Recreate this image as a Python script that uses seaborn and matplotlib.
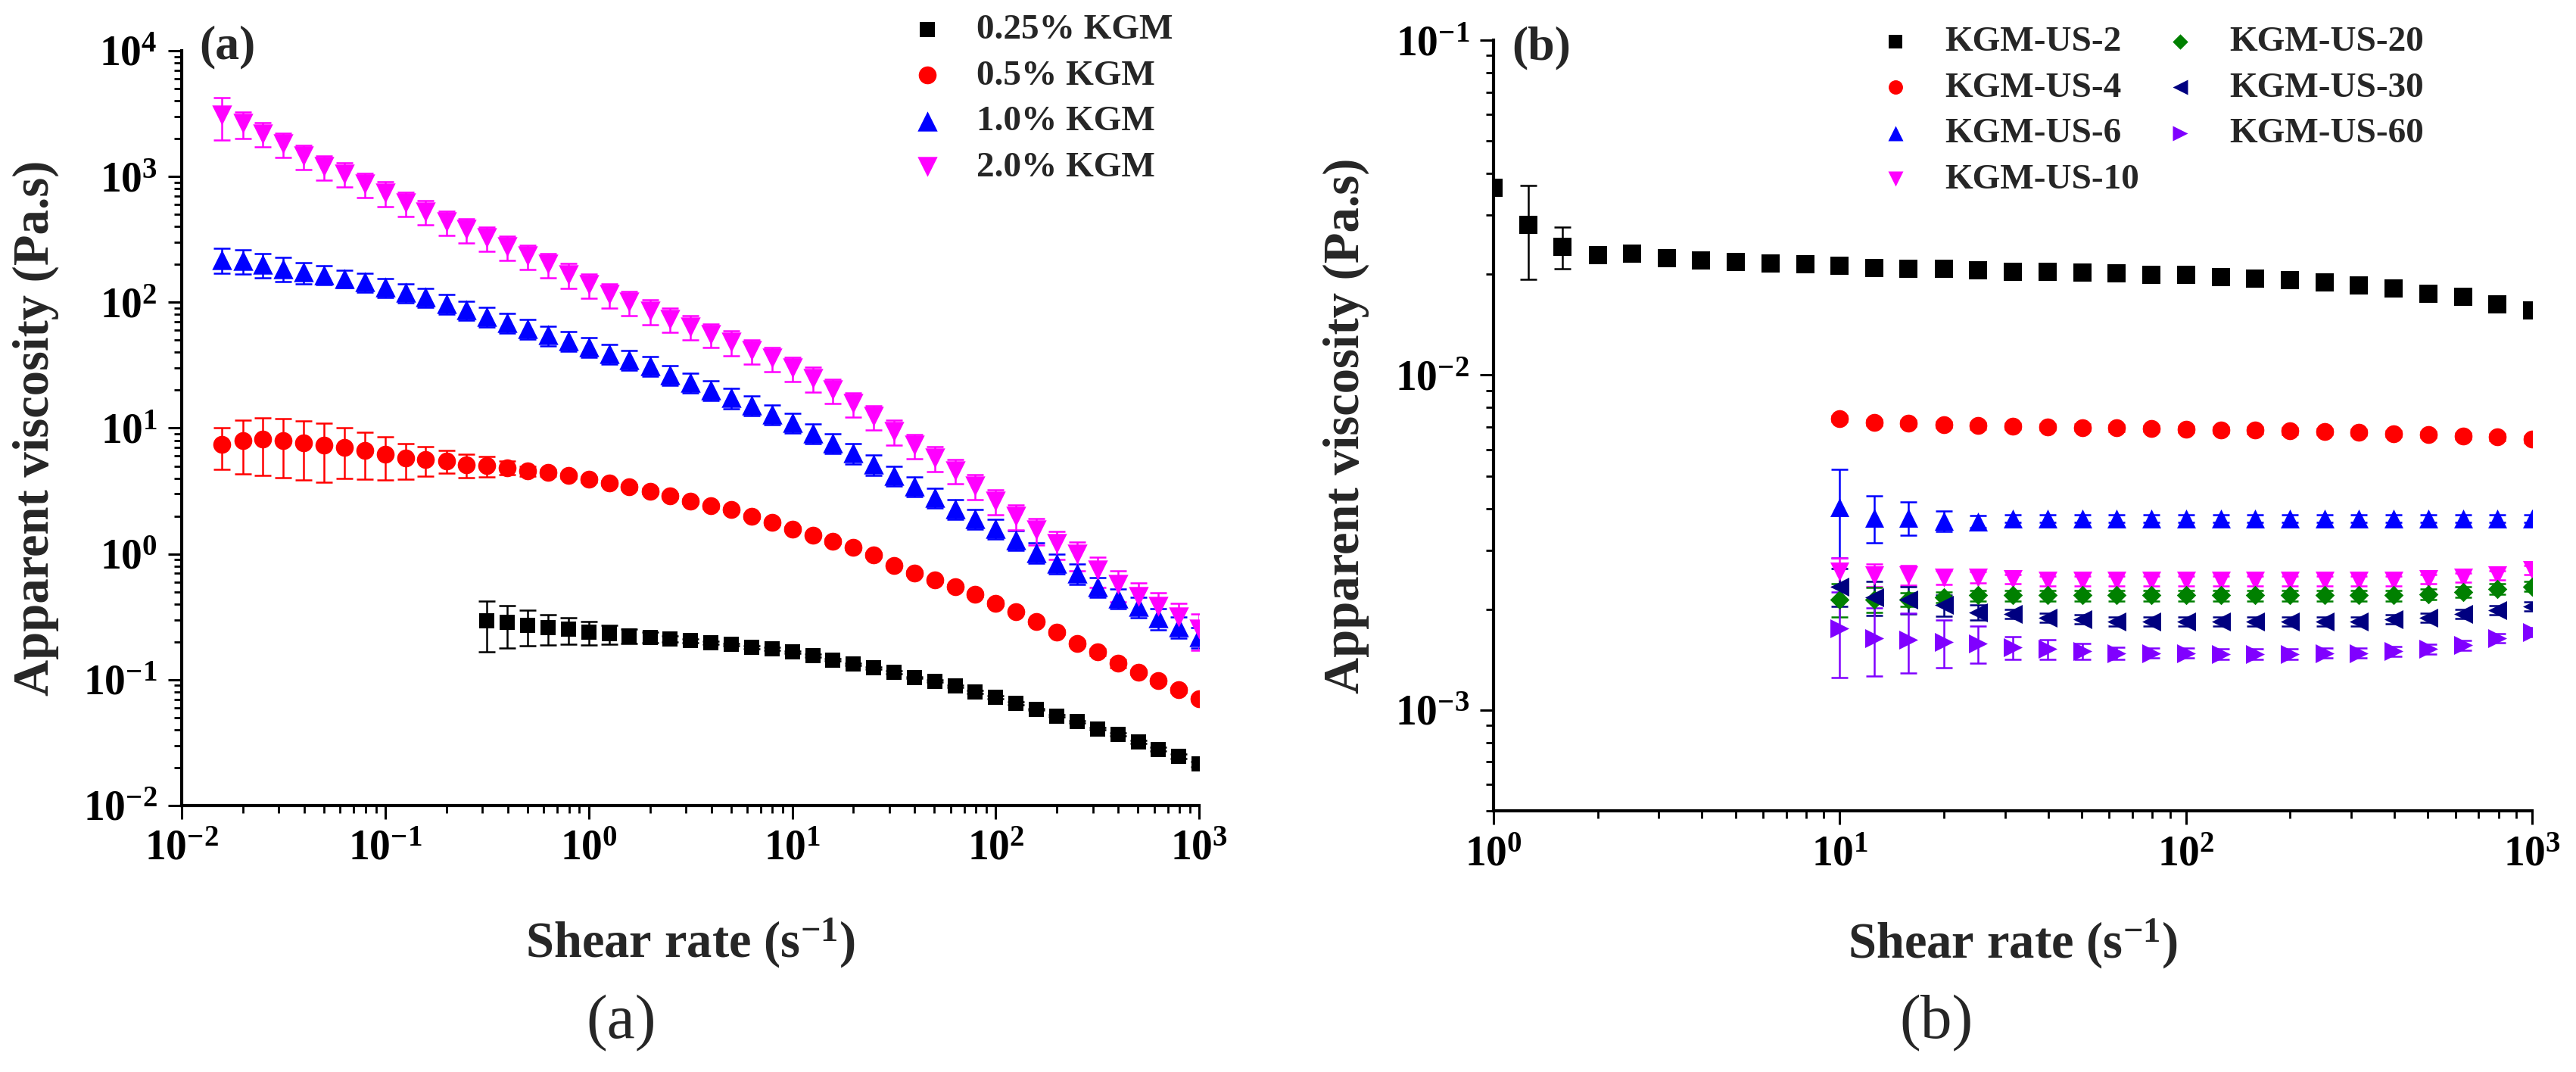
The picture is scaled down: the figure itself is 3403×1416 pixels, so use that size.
import numpy as np
import pandas as pd
import matplotlib
matplotlib.use("Agg")
import matplotlib.pyplot as plt
from matplotlib import ticker, font_manager
import seaborn as sns

# ---------------- data: panel (a) ----------------
shear_a = [0.0158, 0.0200, 0.0251, 0.0316, 0.0398, 0.0501, 0.0631, 0.0794, 0.100,
           0.126, 0.158, 0.200, 0.251, 0.316, 0.398, 0.501, 0.631, 0.794, 1.00,
           1.26, 1.58, 2.00, 2.51, 3.16, 3.98, 5.01, 6.31, 7.94, 10.0,
           12.6, 15.8, 20.0, 25.1, 31.6, 39.8, 50.1, 63.1, 79.4, 100,
           126, 158, 200, 251, 316, 398, 501, 631, 794, 1000]
shear_a025 = shear_a[13:]

visc_025 = [0.294, 0.284, 0.271, 0.259, 0.251, 0.239, 0.232, 0.223, 0.218, 0.211,
            0.204, 0.197, 0.190, 0.182, 0.176, 0.166, 0.155, 0.144, 0.133, 0.124,
            0.114, 0.104, 0.0973, 0.0887, 0.0802, 0.0721, 0.0649, 0.0581, 0.0514, 0.0465,
            0.0408, 0.0366, 0.0321, 0.0280, 0.0245, 0.0214]
err_025 = [0.127, 0.105, 0.084, 0.071, 0.060, 0.050, 0.040, 0.030, 0.020, 0.012,
           0.008, 0.006, 0.005, 0.005, 0.004, 0.004, 0.004, 0.003, 0.003, 0.003,
           0.003, 0.002, 0.002, 0.002, 0.002, 0.002, 0.002, 0.001, 0.001, 0.001,
           0.001, 0.001, 0.001, 0.001, 0.001, 0.001]

visc_05 = [7.41, 7.94, 8.13, 7.94, 7.67, 7.33, 7.00, 6.61, 6.17, 5.75,
           5.62, 5.50, 5.13, 5.01, 4.84, 4.57, 4.42, 4.20, 3.91, 3.65,
           3.40, 3.16, 2.88, 2.63, 2.40, 2.24, 2.00, 1.78, 1.58, 1.41,
           1.26, 1.12, 0.977, 0.813, 0.708, 0.617, 0.550, 0.479, 0.407, 0.347,
           0.288, 0.240, 0.195, 0.166, 0.135, 0.115, 0.0977, 0.0832, 0.0708]
err_05 = [2.7, 3.6, 3.9, 3.9, 3.8, 3.6, 3.0, 2.7, 2.3, 1.8,
          1.5, 1.1, 1.1, 0.9, 0.6, 0.4, 0.3, 0.2, 0.18, 0.16,
          0.15, 0.14, 0.12, 0.11, 0.10, 0.09, 0.08, 0.07, 0.06, 0.05,
          0.05, 0.04, 0.04, 0.03, 0.03, 0.02, 0.02, 0.02, 0.02, 0.01,
          0.01, 0.01, 0.01, 0.01, 0.01, 0.005, 0.004, 0.004, 0.003]

visc_10 = [219, 214, 200, 186, 174, 166, 155, 145, 132, 120,
           110, 97.7, 87.1, 77.6, 69.2, 61.7, 55.0, 49.7, 44.3, 39.4,
           35.1, 31.3, 26.6, 23.2, 20.1, 17.5, 15.3, 13.0, 11.1, 9.18,
           7.64, 6.35, 5.16, 4.20, 3.48, 2.83, 2.30, 1.91, 1.60, 1.29,
           1.03, 0.84, 0.70, 0.55, 0.447, 0.38, 0.309, 0.263, 0.219]
err_10 = [50, 46, 44, 40, 33, 28, 25, 24, 23, 21,
          19, 17, 15, 14, 12, 11, 9.9, 8.9, 8.0, 7.1,
          6.3, 5.6, 4.8, 4.2, 3.6, 3.2, 2.8, 2.3, 2.0, 1.65,
          1.38, 1.14, 0.93, 0.76, 0.63, 0.51, 0.41, 0.34, 0.29, 0.23,
          0.19, 0.15, 0.13, 0.10, 0.08, 0.07, 0.06, 0.05, 0.04]

visc_20 = [3090, 2630, 2190, 1820, 1450, 1200, 1050, 871, 741, 617,
           525, 437, 380, 324, 275, 234, 200, 166, 138, 115,
           100, 85.1, 73.5, 64.0, 55.6, 48.4, 41.2, 35.9, 29.9, 24.8,
           20.1, 15.6, 12.4, 9.42, 7.29, 5.79, 4.60, 3.48, 2.63, 2.00,
           1.55, 1.20, 0.99, 0.74, 0.575, 0.457, 0.380, 0.316, 0.251]
err_20 = [1150, 630, 480, 400, 320, 265, 230, 190, 165, 135,
          115, 96, 84, 71, 60, 51, 44, 37, 30, 25,
          22, 19, 16, 14, 12, 10.6, 9.1, 7.9, 6.6, 5.5,
          4.4, 3.4, 2.7, 2.1, 1.6, 1.3, 1.0, 0.77, 0.58, 0.46,
          0.37, 0.30, 0.26, 0.20, 0.16, 0.13, 0.11, 0.09, 0.08]

labels_a = ["0.25% KGM", "0.5% KGM", "1.0% KGM", "2.0% KGM"]

# ---------------- data: panel (b) ----------------
shear_b2 = [1.00, 1.26, 1.58, 2.00, 2.51, 3.16, 3.98, 5.01, 6.31, 7.94,
            10.0, 12.6, 15.8, 20.0, 25.1, 31.6, 39.8, 50.1, 63.1, 79.4,
            100, 126, 158, 200, 251, 316, 398, 501, 631, 794, 1000]
shear_b = shear_b2[10:]

visc_us2 = [0.0363, 0.0281, 0.0242, 0.0228, 0.0231, 0.0223, 0.0220, 0.0218, 0.0215, 0.0214,
            0.0212, 0.0209, 0.0208, 0.0208, 0.0206, 0.0204, 0.0203, 0.0202, 0.0201, 0.0199,
            0.0199, 0.0196, 0.0194, 0.0192, 0.0189, 0.0185, 0.0181, 0.0175, 0.0171, 0.0163,
            0.0156]
err_us2 = [0.0010, 0.0088, 0.0034, 0.0005, 0.0004, 0.0004, 0.0004, 0.0004, 0.0004, 0.0004,
           0.0004, 0.0004, 0.0004, 0.0004, 0.0004, 0.0004, 0.0004, 0.0004, 0.0004, 0.0004,
           0.0004, 0.0004, 0.0004, 0.0004, 0.0004, 0.0004, 0.0004, 0.0004, 0.0004, 0.0004,
           0.0004]
visc_us4 = [0.00740, 0.00723, 0.00719, 0.00710, 0.00706, 0.00703, 0.00701, 0.00698, 0.00695, 0.00693,
            0.00689, 0.00685, 0.00684, 0.00681, 0.00678, 0.00675, 0.00668, 0.00665, 0.00658, 0.00653,
            0.00643]
err_us4 = [0.00015] * 21
visc_us6 = [0.00404, 0.00375, 0.00375, 0.00367, 0.00366, 0.00373, 0.00373, 0.00373, 0.00373, 0.00373,
            0.00373, 0.00373, 0.00373, 0.00373, 0.00373, 0.00373, 0.00373, 0.00373, 0.00373, 0.00373,
            0.00373]
err_us6 = [0.0012, 0.0006, 0.00043, 0.00025, 0.00015, 0.0001, 0.0001, 0.0001, 0.0001, 0.0001,
           0.0001, 0.0001, 0.0001, 0.0001, 0.0001, 0.0001, 0.0001, 0.0001, 0.0001, 0.0001,
           0.0001]
visc_us10 = [0.00259, 0.00253, 0.00253, 0.00249, 0.00249, 0.00246, 0.00243, 0.00243, 0.00243, 0.00243,
             0.00243, 0.00243, 0.00243, 0.00243, 0.00243, 0.00243, 0.00243, 0.00246, 0.00249, 0.00253,
             0.00262]
err_us10 = [0.00025, 0.0002, 0.00017, 0.00012, 0.0001, 0.00008, 0.00008, 0.00008, 0.00008, 0.00008,
            0.00008, 0.00008, 0.00008, 0.00008, 0.00008, 0.00008, 0.00008, 0.00008, 0.00008, 0.00008,
            0.00008]
visc_us20 = [0.00214, 0.00214, 0.00214, 0.00217, 0.00220, 0.00220, 0.00220, 0.00220, 0.00220, 0.00220,
             0.00220, 0.00220, 0.00220, 0.00220, 0.00220, 0.00220, 0.00220, 0.00222, 0.00225, 0.00230,
             0.00234]
err_us20 = [0.00024, 0.00018, 0.0001, 0.00008, 0.00008, 0.00008, 0.00008, 0.00008, 0.00008, 0.00008,
            0.00008, 0.00008, 0.00008, 0.00008, 0.00008, 0.00008, 0.00008, 0.00008, 0.00008, 0.00008,
            0.00008]
visc_us30 = [0.00234, 0.00217, 0.00214, 0.00206, 0.00196, 0.00194, 0.00189, 0.00187, 0.00184, 0.00184,
             0.00184, 0.00184, 0.00184, 0.00184, 0.00184, 0.00184, 0.00187, 0.00189, 0.00194, 0.00199,
             0.00204]
err_us30 = [0.0003, 0.00025, 0.0002, 0.00015, 0.0001, 0.00006, 0.00006, 0.00006, 0.00006, 0.00006,
            0.00006, 0.00006, 0.00006, 0.00006, 0.00006, 0.00006, 0.00006, 0.00006, 0.00006, 0.00006,
            0.00006]
visc_us60 = [0.00175, 0.00164, 0.00162, 0.00160, 0.00158, 0.00154, 0.00152, 0.00150, 0.00148, 0.00148,
             0.00148, 0.00147, 0.00147, 0.00147, 0.00148, 0.00148, 0.00150, 0.00152, 0.00156, 0.00164,
             0.00171]
err_us60 = [0.0005, 0.00038, 0.00033, 0.00026, 0.0002, 0.00012, 0.0001, 0.00008, 0.00006, 0.00005,
            0.00005, 0.00005, 0.00005, 0.00005, 0.00005, 0.00005, 0.00005, 0.00005, 0.00005, 0.00005,
            0.00005]
labels_b = ["KGM-US-2", "KGM-US-4", "KGM-US-6", "KGM-US-10", "KGM-US-20", "KGM-US-30", "KGM-US-60"]

# ---------------- fonts ----------------
available = {f.name for f in font_manager.fontManager.ttflist}
SERIF = "DejaVu Serif"
for cand in ["Liberation Serif", "Times New Roman", "Tinos", "Nimbus Roman", "Noto Serif",
             "DejaVu Serif"]:
    if cand in available:
        SERIF = cand
        break

# ---------------- style ----------------
sns.set_theme(style="ticks")
plt.rcParams["font.family"] = [SERIF, "DejaVu Sans"]
plt.rcParams["mathtext.fontset"] = "custom"
plt.rcParams["mathtext.rm"] = SERIF
plt.rcParams["mathtext.bf"] = SERIF + ":bold"
plt.rcParams["mathtext.it"] = SERIF + ":italic"

fig = plt.figure(figsize=(34.03, 14.16), dpi=100)
fig.patch.set_facecolor("white")
ax_a = fig.add_axes([0.07053, 0.2486, 0.3950, 0.7041])
ax_b = fig.add_axes([0.5798, 0.2436, 0.4032, 0.7189])

def pow_fmt(v, pos):
    if v <= 0:
        return ""
    e = int(np.round(np.log10(v)))
    if not np.isclose(v, 10.0 ** e):
        return ""
    return r"$\mathbf{10^{%d}}$" % e

def style_axis(ax):
    ax.set_xscale("log")
    ax.set_yscale("log")
    ax.set_facecolor("white")
    for s in ["top", "right"]:
        ax.spines[s].set_visible(False)
    for s in ["left", "bottom"]:
        ax.spines[s].set_linewidth(3)
        ax.spines[s].set_color("black")
    for axis in [ax.xaxis, ax.yaxis]:
        axis.set_major_locator(ticker.LogLocator(base=10, numticks=30))
        axis.set_minor_locator(ticker.LogLocator(base=10, subs=np.arange(2, 10), numticks=30))
        axis.set_major_formatter(ticker.FuncFormatter(pow_fmt))
        axis.set_minor_formatter(ticker.NullFormatter())
    ax.tick_params(which="major", direction="out", length=13, width=2.2, pad=10,
                   labelsize=40, color="black", labelcolor="black")
    ax.tick_params(which="minor", direction="out", length=7, width=2.0, color="black")
    ax.grid(False)

def draw_series(ax, x, y, e, color, marker, ms, label):
    ax.errorbar(x, y, yerr=e, fmt="none", ecolor=color, elinewidth=1.8,
                capsize=8, capthick=1.8, zorder=2)
    sns.scatterplot(x=x, y=y, ax=ax, marker=marker, s=ms ** 2, color=color,
                    edgecolor=color, linewidth=0, label=label, zorder=3)

# ---------------- panel (a) ----------------
style_axis(ax_a)
draw_series(ax_a, shear_a025, visc_025, err_025, "#000000", "s", 15, labels_a[0])
draw_series(ax_a, shear_a, visc_05, err_05, "#ff0000", "o", 17, labels_a[1])
draw_series(ax_a, shear_a, visc_10, err_10, "#0000ff", "^", 19, labels_a[2])
draw_series(ax_a, shear_a, visc_20, err_20, "#ff00ff", "v", 19, labels_a[3])
ax_a.set_xlim(1e-2, 1e3)
ax_a.set_ylim(1e-2, 1e4)

# ---------------- panel (b) ----------------
style_axis(ax_b)
draw_series(ax_b, shear_b2, visc_us2, err_us2, "#000000", "s", 17, labels_b[0])
draw_series(ax_b, shear_b, visc_us4, err_us4, "#ff0000", "o", 17, labels_b[1])
draw_series(ax_b, shear_b, visc_us6, err_us6, "#0000ff", "^", 18, labels_b[2])
draw_series(ax_b, shear_b, visc_us10, err_us10, "#ff00ff", "v", 18, labels_b[3])
draw_series(ax_b, shear_b, visc_us20, err_us20, "#008000", "D", 13, labels_b[4])
draw_series(ax_b, shear_b, visc_us30, err_us30, "#000080", "<", 18, labels_b[5])
draw_series(ax_b, shear_b, visc_us60, err_us60, "#8000ff", ">", 18, labels_b[6])
ax_b.set_xlim(1, 1e3)
ax_b.set_ylim(5e-4, 1e-1)

# ---------------- labels ----------------
lab_font = dict(family=[SERIF, "DejaVu Sans"], weight="bold", size=48)
for ax in (ax_a, ax_b):
    ax.set_ylabel("Apparent viscosity (Pa.s)", **lab_font)
    ax.set_xlabel(r"Shear rate (s$^{\mathbf{-1}}$)", **lab_font)
ax_a.yaxis.set_label_coords(-0.1205, 0.5)
ax_b.yaxis.set_label_coords(-0.1195, 0.5)
ax_a.xaxis.set_label_coords(0.5, -0.1464)
ax_b.xaxis.set_label_coords(0.5, -0.1375)

ax_a.text(0.017, 1.005, "(a)", transform=ax_a.transAxes, ha="left", va="center",
          family=[SERIF, "DejaVu Sans"], weight="bold", size=46)
ax_b.text(0.0175, 0.990, "(b)", transform=ax_b.transAxes, ha="left", va="center",
          family=[SERIF, "DejaVu Sans"], weight="bold", size=46)

fig.text(821 / 3403, 1 - 1352 / 1416, "(a)", ha="center", va="center",
         family=[SERIF, "DejaVu Sans"], size=60)
fig.text(2558 / 3403, 1 - 1352 / 1416, "(b)", ha="center", va="center",
         family=[SERIF, "DejaVu Sans"], size=60)

# ---------------- legends ----------------
leg_font = font_manager.FontProperties(family=[SERIF, "DejaVu Sans"], weight="bold", size=34)
leg_a = ax_a.legend(loc="upper left", bbox_to_anchor=(1201 / 3403, 1 - 18 / 1416),
                    bbox_transform=fig.transFigure, frameon=False, prop=leg_font,
                    handlelength=1.0, handletextpad=0.88, labelspacing=0.37,
                    borderpad=0, borderaxespad=0, markerscale=1.0)
leg_b = ax_b.legend(loc="upper left", bbox_to_anchor=(2480 / 3403, 1 - 34 / 1416),
                    bbox_transform=fig.transFigure, frameon=False, prop=leg_font,
                    ncol=2, handlelength=1.0, handletextpad=0.88, labelspacing=0.37,
                    columnspacing=0.65, borderpad=0, borderaxespad=0, markerscale=0.8)

fig.savefig("out.png", dpi=100, facecolor="white")
